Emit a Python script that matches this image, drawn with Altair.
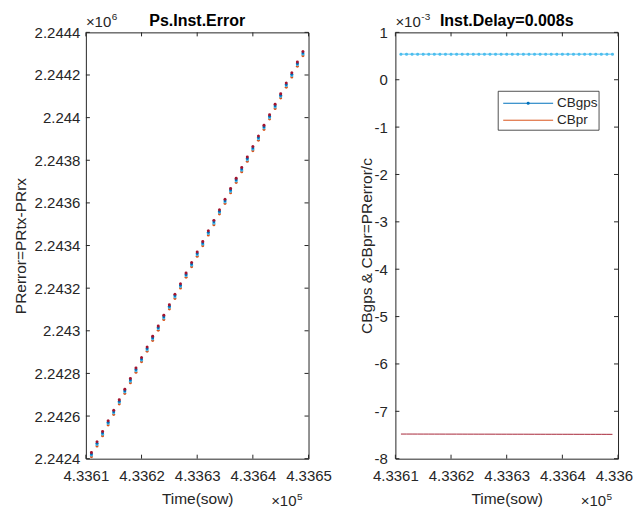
import altair as alt
import pandas as pd

# ---------------- data ----------------
time_sow = [433611, 433612, 433613, 433614, 433615, 433616, 433617, 433618, 433619, 433620,
            433621, 433622, 433623, 433624, 433625, 433626, 433627, 433628, 433629, 433630,
            433631, 433632, 433633, 433634, 433635, 433636, 433637, 433638, 433639, 433640,
            433641, 433642, 433643, 433644, 433645, 433646, 433647, 433648, 433649]

pr_error = [2242419, 2242469, 2242518, 2242568, 2242617, 2242667, 2242716, 2242766, 2242815, 2242865,
            2242914, 2242964, 2243013, 2243063, 2243112, 2243162, 2243211, 2243261, 2243310, 2243360,
            2243409, 2243459, 2243508, 2243558, 2243607, 2243657, 2243706, 2243756, 2243805, 2243855,
            2243904, 2243954, 2244003, 2244053, 2244102, 2244152, 2244201, 2244251, 2244300]

# the markers of each second form a small vertical stack of coloured dots
stack_names = ["s1", "s2", "s3", "s4"]
stack_offsets = [10, 3, -3, -10]
stack_colors = ["#A2142F", "#0072BD", "#4DBEEE", "#D95319"]

cb_gps = [0.54] * 39  # x1e-3 s, flat
cb_pr = [-7.4799, -7.4801, -7.4802, -7.4804, -7.4806, -7.4807, -7.4809, -7.4811, -7.4812, -7.4814,
         -7.4815, -7.4817, -7.4819, -7.4820, -7.4822, -7.4824, -7.4825, -7.4827, -7.4829, -7.4830,
         -7.4832, -7.4834, -7.4835, -7.4837, -7.4839, -7.4840, -7.4842, -7.4844, -7.4845, -7.4847,
         -7.4848, -7.4850, -7.4852, -7.4853, -7.4855, -7.4857, -7.4858, -7.4860, -7.4862]

x_ticks = [433610, 433620, 433630, 433640, 433650]
y_ticks_left = [2242400, 2242600, 2242800, 2243000, 2243200, 2243400,
                2243600, 2243800, 2244000, 2244200, 2244400]
y_ticks_right = [-0.008, -0.007, -0.006, -0.005, -0.004, -0.003, -0.002, -0.001, 0.0, 0.001]

legend_labels = ["CBgps", "CBpr"]
legend_colors = ["#0072BD", "#D95319"]

# ---------------- styling ----------------
GRAY = "#262626"
FONT = "Liberation Sans"
W, H = 223, 427
TICK = 4

df_pr = pd.DataFrame([
    {"t": t, "pr": v + off, "s": n}
    for n, off in zip(stack_names, stack_offsets)
    for t, v in zip(time_sow, pr_error)
])
df_cb = pd.DataFrame({"t": time_sow,
                      "gps": [v * 1e-3 for v in cb_gps],
                      "pr": [v * 1e-3 for v in cb_pr]})

x_scale = alt.Scale(domain=[433610, 433650], nice=False, zero=False)
yl_scale = alt.Scale(domain=[2242400, 2244400], nice=False, zero=False)
yr_scale = alt.Scale(domain=[-0.008, 0.001], nice=False, zero=False)

x_axis = alt.Axis(values=x_ticks, labelExpr="format(datum.value/100000, '.5~g')",
                  title="Time(sow)", labelPadding=10, titlePadding=8,
                  minExtent=25, maxExtent=25, labelFlush=False)


def ticks_layers(yvals, yscale):
    xt = pd.DataFrame({"t": x_ticks})
    yt = pd.DataFrame({"v": yvals})
    xr = alt.Chart(xt).mark_rule(color=GRAY, strokeWidth=1)
    yr = alt.Chart(yt).mark_rule(color=GRAY, strokeWidth=1)
    xe = alt.X("t:Q", scale=x_scale)
    ye = alt.Y("v:Q", scale=yscale)
    return [
        xr.encode(x=xe, y=alt.value(H - TICK), y2=alt.value(H)),
        xr.encode(x=xe, y=alt.value(0), y2=alt.value(TICK)),
        yr.encode(y=ye, x=alt.value(0), x2=alt.value(TICK)),
        yr.encode(y=ye, x=alt.value(W - TICK), x2=alt.value(W)),
    ]


def text_layer(txt, x, y, size, align="left", baseline="alphabetic", weight="normal", color=GRAY):
    return alt.Chart(pd.DataFrame({"a": [0]})).mark_text(
        align=align, baseline=baseline, fontSize=size, font=FONT, fontWeight=weight, color=color
    ).encode(x=alt.value(x), y=alt.value(y), text=alt.value(txt))


# ---------------- left panel ----------------
left_points = alt.Chart(df_pr).mark_circle(size=9, opacity=1).encode(
    x=alt.X("t:Q", scale=x_scale, axis=x_axis),
    y=alt.Y("pr:Q", scale=yl_scale,
            axis=alt.Axis(values=y_ticks_left, labelExpr="format(datum.value/1000000, '.5~g')",
                          title="PRerror=PRtx-PRrx", labelPadding=6, titlePadding=5,
                          minExtent=52, maxExtent=52)),
    color=alt.Color("s:N", scale=alt.Scale(domain=stack_names, range=stack_colors), legend=None),
    order=alt.Order("s:N", sort="descending"),
)

left = alt.layer(
    left_points,
    *ticks_layers(y_ticks_left, yl_scale),
    text_layer("Ps.Inst.Error", W / 2, -6, 16, align="center", weight="bold", color="#000000"),
    text_layer("×10", 0, -5, 15),
    text_layer("6", 26, -12, 10),
    text_layer("×10", W - 12, H + 47, 15, align="right"),
    text_layer("5", W - 6, H + 41, 10, align="right"),
).properties(width=W, height=H)

# ---------------- right panel ----------------
gps_line = alt.Chart(df_cb).mark_line(color="#4DBEEE", strokeWidth=1).encode(
    x=alt.X("t:Q", scale=x_scale, axis=x_axis),
    y=alt.Y("gps:Q", scale=yr_scale,
            axis=alt.Axis(values=y_ticks_right, labelExpr="'' + round(datum.value*1000)",
                          title="CBgps & CBpr=PRerror/c", labelPadding=8, titlePadding=1,
                          minExtent=20, maxExtent=20)),
)
gps_pts = alt.Chart(df_cb).mark_circle(size=9, opacity=1, color="#4DBEEE").encode(
    x=alt.X("t:Q", scale=x_scale),
    y=alt.Y("gps:Q", scale=yr_scale),
)
pr_line = alt.Chart(df_cb).mark_line(color="#A8283A", strokeWidth=1).encode(
    x=alt.X("t:Q", scale=x_scale),
    y=alt.Y("pr:Q", scale=yr_scale),
)

# legend box (inside the axes, upper right)
LX0, LX1, LY0, LY1 = 103, 204, 59, 98
ROW1, ROW2 = 71, 88
one = pd.DataFrame({"a": [0]})
leg_box = alt.Chart(one).mark_rect(fill="white", stroke=GRAY, strokeWidth=0.8).encode(
    x=alt.value(LX0), x2=alt.value(LX1), y=alt.value(LY0), y2=alt.value(LY1))
leg_l1 = alt.Chart(one).mark_rule(color=legend_colors[0], strokeWidth=1).encode(
    x=alt.value(108), x2=alt.value(158), y=alt.value(ROW1))
leg_d1 = alt.Chart(one).mark_circle(size=9, opacity=1, color=legend_colors[0]).encode(
    x=alt.value(133), y=alt.value(ROW1))
leg_l2 = alt.Chart(one).mark_rule(color=legend_colors[1], strokeWidth=1).encode(
    x=alt.value(108), x2=alt.value(158), y=alt.value(ROW2))

right = alt.layer(
    gps_line, gps_pts, pr_line,
    *ticks_layers(y_ticks_right, yr_scale),
    leg_box, leg_l1, leg_d1, leg_l2,
    text_layer(legend_labels[0], 162, ROW1, 13.5, baseline="middle"),
    text_layer(legend_labels[1], 162, ROW2, 13.5, baseline="middle"),
    text_layer("Inst.Delay=0.008s", W / 2, -6, 16, align="center", weight="bold", color="#000000"),
    text_layer("×10", 0, -5, 15),
    text_layer("-3", 26, -12, 10),
    text_layer("×10", W - 12, H + 47, 15, align="right"),
    text_layer("5", W - 6, H + 41, 10, align="right"),
).properties(width=W, height=H)

chart = alt.hconcat(left, right, spacing=26).configure_view(
    stroke=GRAY, strokeWidth=1
).configure_axis(
    domain=False, ticks=False, grid=False,
    labelFont=FONT, labelFontSize=15, labelColor=GRAY,
    titleFont=FONT, titleFontSize=15.5, titleFontWeight="normal", titleColor=GRAY,
).properties(
    background="white", padding={"left": 5, "top": 3, "right": -9, "bottom": 5}
)

chart.save("out.html", embed_options={"renderer": "svg", "actions": False})
